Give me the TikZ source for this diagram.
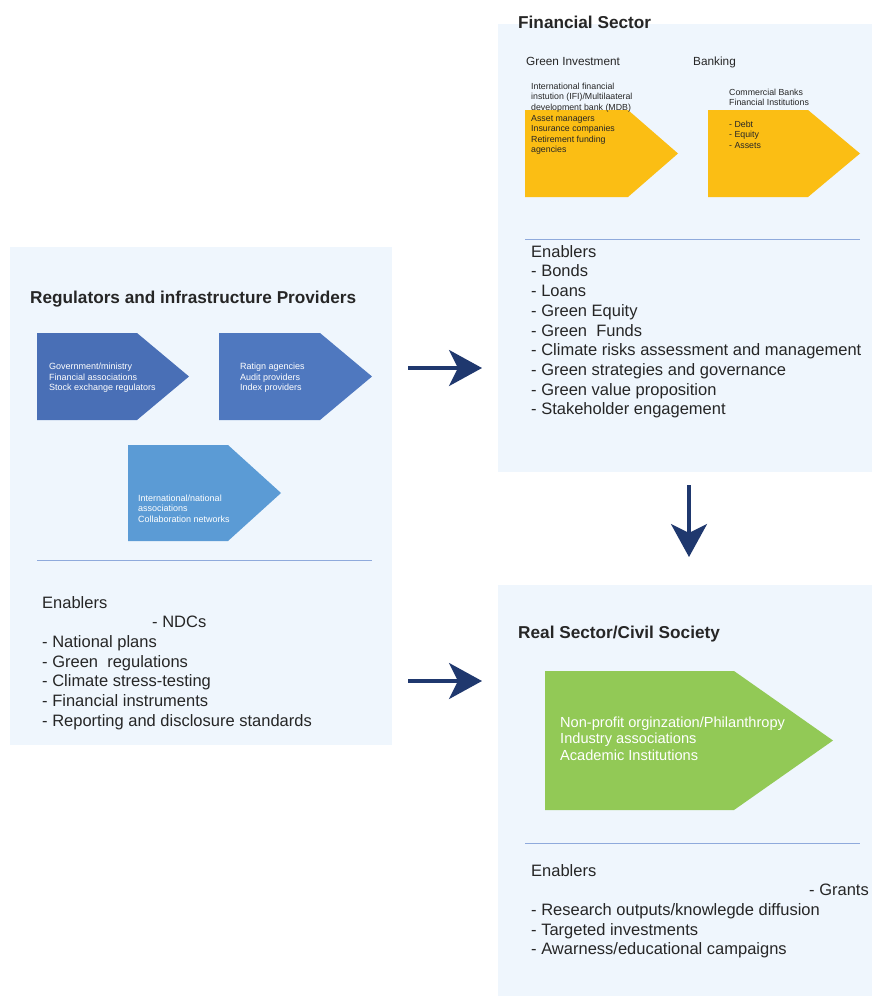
\documentclass[tikz,border=0pt]{standalone}
\usepackage{fontspec}
\setmainfont{Liberation Sans}
\usetikzlibrary{arrows.meta}
\definecolor{panelbg}{RGB}{239,246,253}
\definecolor{blueA}{RGB}{73,111,182}
\definecolor{blueB}{RGB}{79,120,191}
\definecolor{blueC}{RGB}{91,155,213}
\definecolor{yell}{RGB}{251,190,20}
\definecolor{grn}{RGB}{146,201,86}
\definecolor{rulec}{RGB}{143,170,220}
\definecolor{navy}{RGB}{31,56,110}
\definecolor{ink}{RGB}{38,38,38}
\tikzset{
  txt/.style={inner sep=0pt, anchor=base west, align=left, text=ink},
  title/.style={txt, font=\bfseries\fontsize{17.2}{20}\selectfont},
  enab/.style={txt, font=\fontsize{16.5}{19.7}\selectfont},
  small/.style={txt, text=white, font=\fontsize{9}{10.5}\selectfont},
  ysmall/.style={txt, font=\fontsize{8.8}{10.6}\selectfont},
  subhead/.style={txt, font=\fontsize{11.8}{14}\selectfont},
  gtext/.style={txt, text=white, font=\fontsize{14.6}{16.5}\selectfont},
  rulel/.style={draw=rulec, line width=1pt},
  bigarrow/.style={draw=navy, line width=3.6pt, -{Stealth[length=33pt,width=36pt,inset=9pt]}}
}
\begin{document}
\begin{tikzpicture}[x=1pt,y=-1pt]
\useasboundingbox (0,0) rectangle (872,996);
\fill[white] (0,0) rectangle (872,996);
% panels
\fill[panelbg] (10,247) rectangle (392,745);
\fill[panelbg] (498,24) rectangle (872,472);
\fill[panelbg] (498,585) rectangle (872,996);

% ---------- left panel ----------
\node[title] (regtitle) at (30,303) {Regulators and infrastructure Providers};
\fill[blueA] (37,333) -- (137,333) -- (189,376.5) -- (137,420) -- (37,420) -- cycle;
\fill[blueB] (219,333) -- (320,333) -- (372,376.5) -- (320,420) -- (219,420) -- cycle;
\fill[blueC] (128,445) -- (228,445) -- (281,493) -- (228,541) -- (128,541) -- cycle;
\node[small] (gov) at (49,390.5) {Government/ministry\\Financial associations\\Stock exchange regulators};
\node[small] (rat) at (240,390.5) {Ratign agencies\\Audit providers\\Index providers};
\node[small] (intl) at (138,522) {International/national\\associations\\Collaboration networks};
\draw[rulel] (37,560) -- (372,560);
\node[enab] (regenab) at (42,726.2) {Enablers\\\hspace*{110pt}- NDCs\\- National plans\\- Green\ \ regulations\\- Climate stress-testing\\- Financial instruments\\- Reporting and disclosure standards};

% ---------- financial sector ----------
\node[title] (fintitle) at (518,28) {Financial Sector};
\node[subhead] (greeninv) at (526,65) {Green Investment};
\node[subhead] (banking) at (693,65) {Banking};
\fill[yell] (525,110) -- (628,110) -- (678,153.5) -- (628,197) -- (525,197) -- cycle;
\fill[yell] (708,110) -- (808,110) -- (860,153.5) -- (808,197) -- (708,197) -- cycle;
\node[ysmall] (ifi) at (531,152.9) {International financial\\instution (IFI)/Multilaateral\\development bank (MDB)\\Asset managers\\Insurance companies\\Retirement funding\\agencies};
\node[ysmall] (banks) at (729,148.2) {Commercial Banks\\Financial Institutions\\[10.5pt]- Debt\\- Equity\\- Assets};
\draw[rulel] (525,239) -- (860,239);
\node[enab] (finenab) at (531,414.8) {Enablers\\- Bonds\\- Loans\\- Green Equity\\- Green\ \ Funds\\- Climate risks assessment and management\\- Green strategies and governance\\- Green value proposition\\- Stakeholder engagement};

% ---------- real sector ----------
\node[title] (realtitle) at (518,638) {Real Sector/Civil Society};
\fill[grn] (545,671) -- (734,671) -- (833,740.5) -- (734,810) -- (545,810) -- cycle;
\node[gtext] (npo) at (560,760.3) {Non-profit orginzation/Philanthropy\\Industry associations\\Academic Institutions};
\draw[rulel] (525,843) -- (860,843);
\node[enab] (realenab) at (531,954.8) {Enablers\\\hspace*{278pt}- Grants\\- Research outputs/knowlegde diffusion\\- Targeted investments\\- Awarness/educational campaigns};

% ---------- arrows ----------
\coordinate (a1s) at (408,368);
\coordinate (a1e) at (482,368);
\coordinate (a2s) at (408,681);
\coordinate (a2e) at (482,681);
\coordinate (a3s) at (689,485);
\coordinate (a3e) at (689,557);
\draw[bigarrow] (a1s) -- (a1e);
\draw[bigarrow] (a2s) -- (a2e);
\draw[bigarrow] (a3s) -- (a3e);
\end{tikzpicture}
\end{document}
